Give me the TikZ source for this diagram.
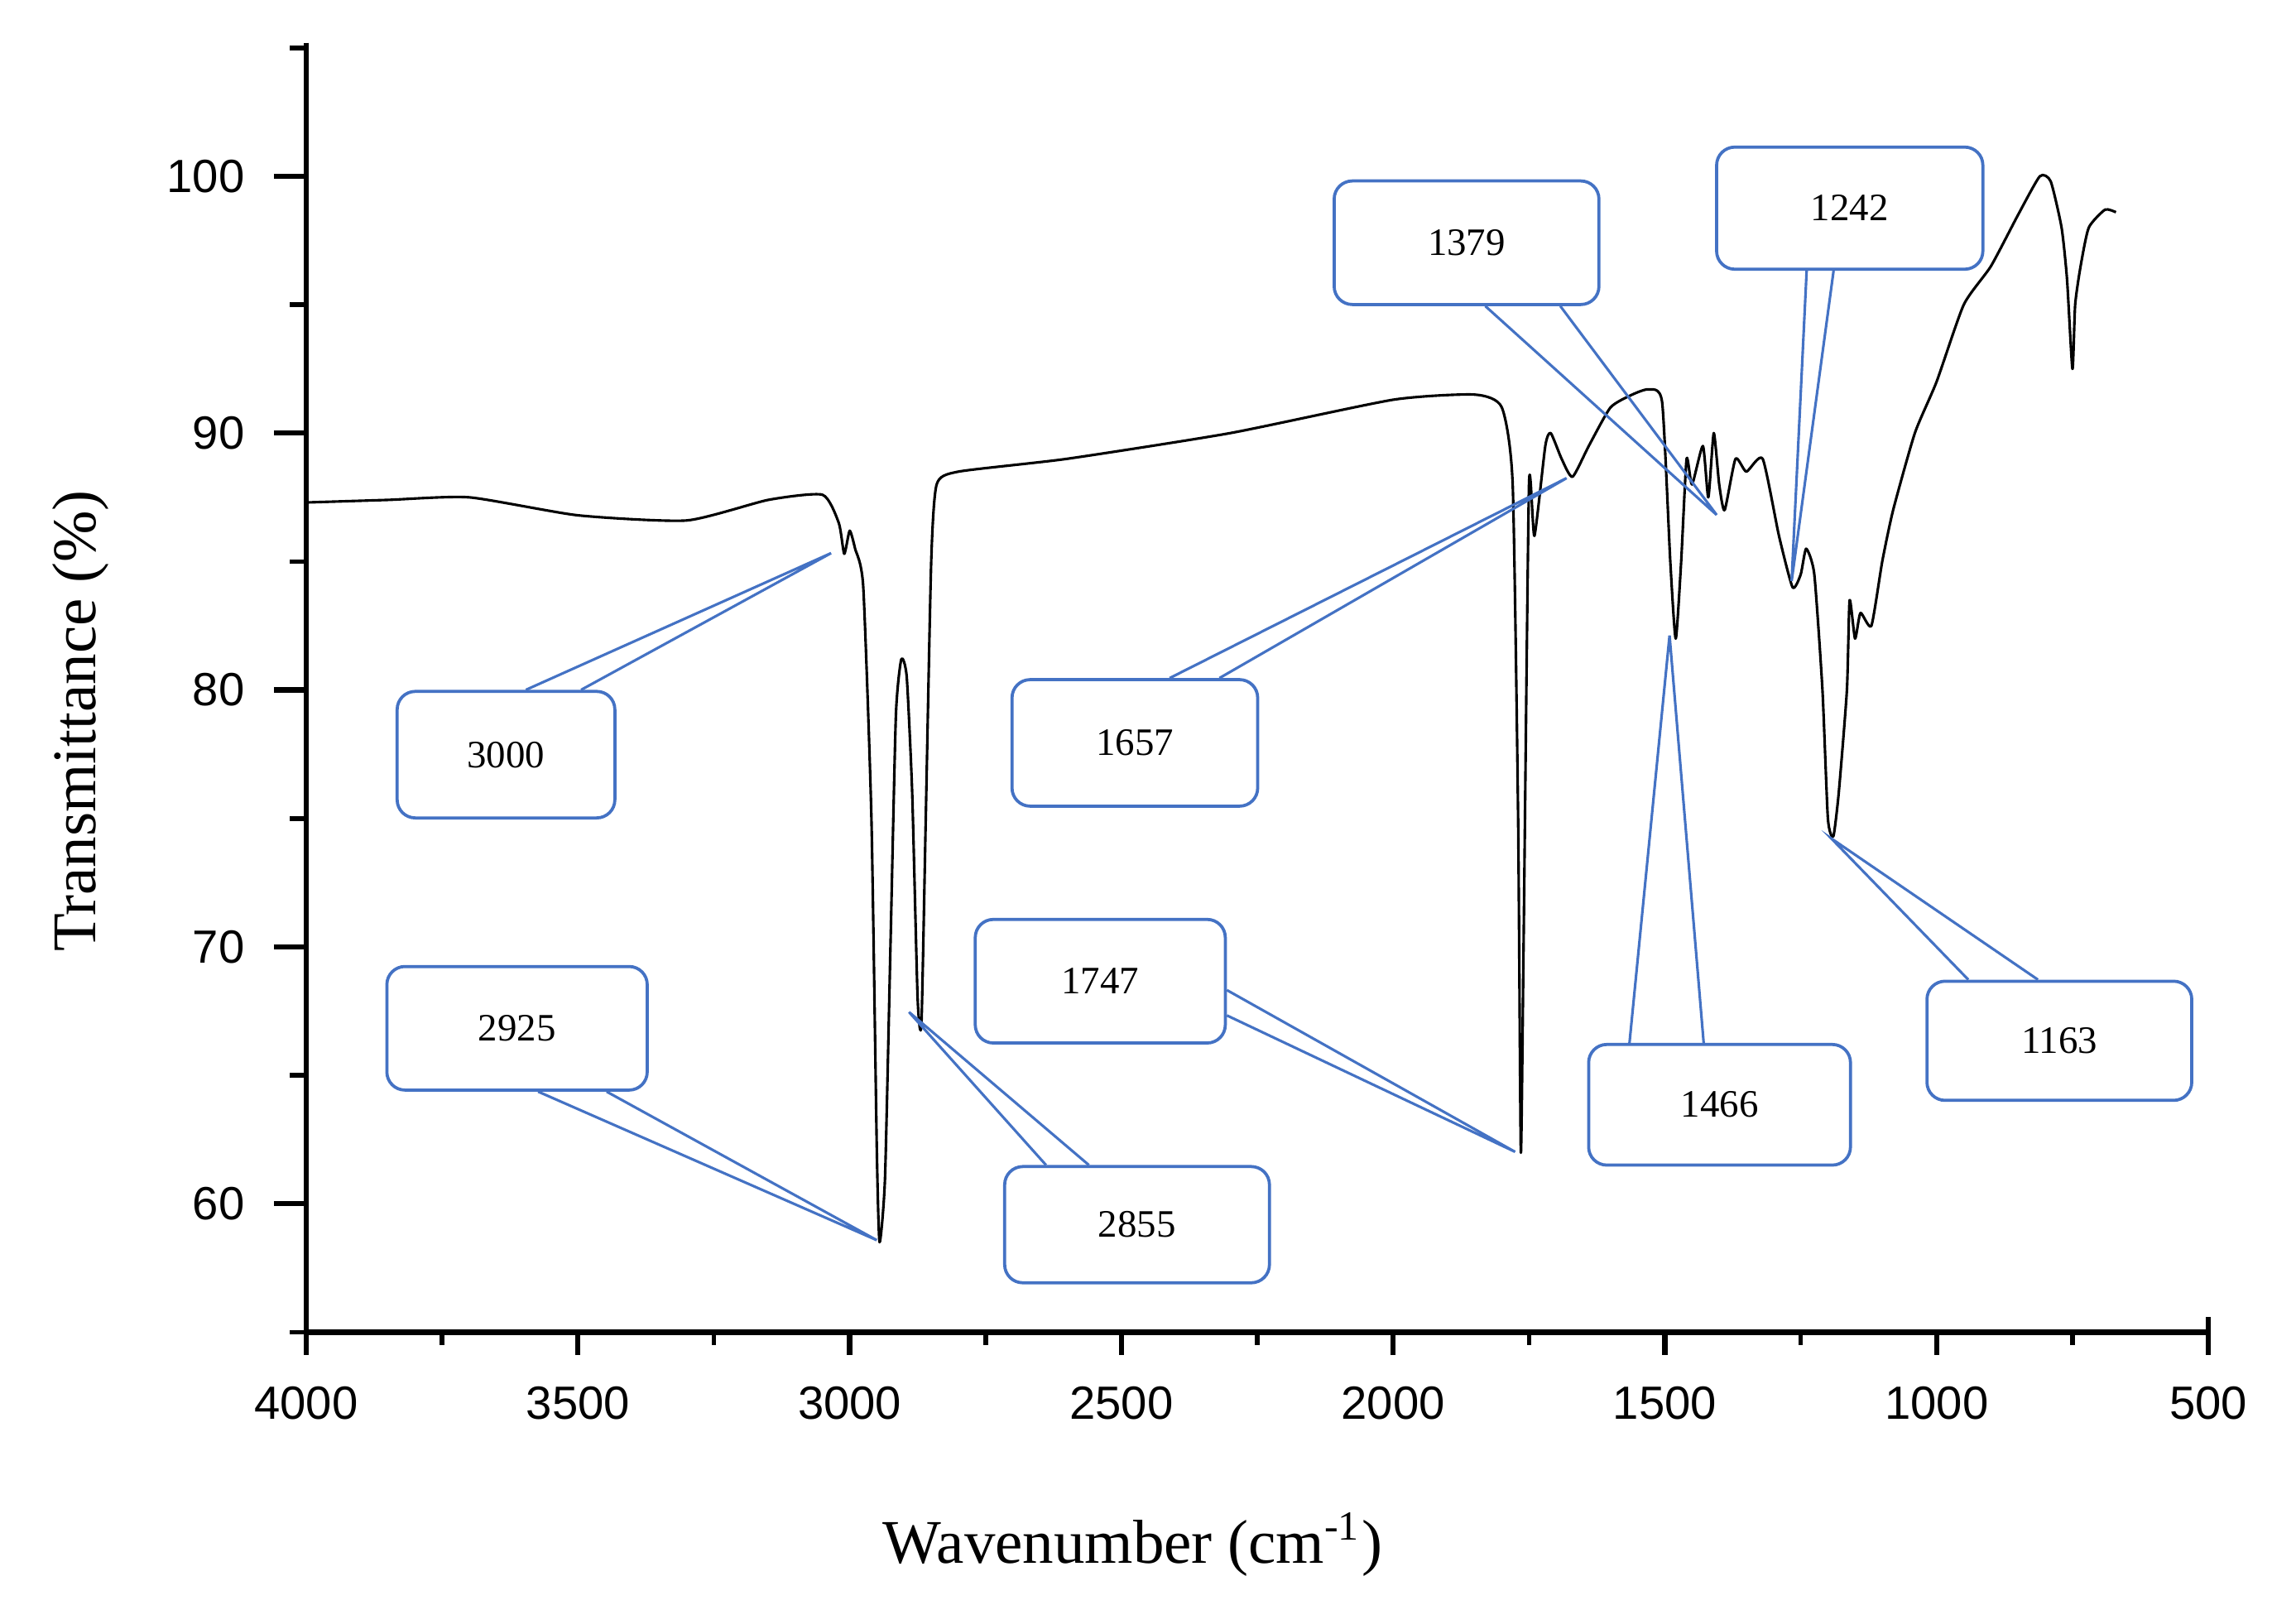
\documentclass[tikz,border=0pt]{standalone}
\usepackage{fontspec}
\setmainfont{Liberation Serif}
\newfontfamily\axfont{Liberation Sans}
\usetikzlibrary{calc}
\definecolor{cblue}{HTML}{4472C4}
\tikzset{
 cbox/.style={draw=cblue,line width=0.6pt,rounded corners=3.5pt,fill=white,font=\fontsize{7.5}{8}\selectfont,inner sep=0pt},
 cline/.style={draw=cblue,line width=0.5pt},
 ticklab/.style={font=\axfont\fontsize{9}{10}\selectfont}
}
\begin{document}
\begin{tikzpicture}
\useasboundingbox[fill=white] (0,0) rectangle (15.6,10.9);
% data scope
\begin{scope}[shift={(16.85cm,-7.7475cm)}, x=-0.0037cm, y=0.1745cm]
 \draw[line width=1.1pt] (4000,105.2) -- (4000,55) -- (500,55) -- (500,55.6);
 \foreach \w in {4000,3500,...,500} {
   \draw[line width=1pt] (\w,55) -- ++(0,-0.9);
   \node[ticklab,below] at (\w,53.6) {\w};}
 \foreach \w in {3750,3250,...,750} \draw[line width=0.9pt] (\w,55) -- ++(0,-0.5);
 \foreach \t in {60,70,...,100} {
   \draw[line width=1pt] (4000,\t) -- ++(60,0);
   \node[ticklab,left] at (4080,\t) {\t};}
 \foreach \t in {55,65,...,105} \draw[line width=0.9pt] (4000,\t) -- ++(30,0);
 \draw[line width=0.5pt,line join=round] plot[smooth,tension=0.35] coordinates {
 (4000,87.3) (3850,87.4) (3700,87.5) (3500,86.8) (3300,86.6) (3150,87.4) (3050,87.6)
 (3020,86.5) (3010,85.3) (3000,86.2) (2990,85.5) (2975,84) (2960,75) (2950,62)
 (2945,58.5) (2935,61) (2925,70) (2915,79) (2905,81.2) (2895,80.5) (2885,76)
 (2875,68) (2868,67) (2860,75) (2850,85) (2840,88) (2800,88.5) (2600,89) (2300,90)
 (2000,91.3) (1850,91.5) (1800,91) (1780,88) (1770,75) (1765,62) (1760,70) (1750,88)
 (1740,86) (1720,89.5) (1710,90) (1690,89) (1670,88.3) (1640,89.5) (1600,91)
 (1560,91.5) (1530,91.7) (1505,91.2) (1490,85) (1480,82) (1470,85) (1460,89)
 (1450,88) (1430,89.5) (1420,87.5) (1410,90) (1400,88) (1390,87) (1370,89) (1350,88.5)
 (1320,89) (1290,86) (1265,84) (1250,84.5) (1240,85.5) (1225,84.5) (1210,80) (1200,75)
 (1190,74.3) (1180,76) (1165,80) (1160,83.5) (1150,82) (1140,83) (1120,82.5) (1100,85)
 (1080,87) (1040,90) (1000,92) (950,95) (900,96.5) (850,98.5) (810,100) (790,99.8)
 (770,98) (760,96) (750,92.5) (745,95) (735,96.5) (720,98) (690,98.7) (670,98.6)};
\end{scope}
% px scope
\begin{scope}[shift={(0,10.9cm)}, x=0.01cm, y=-0.01cm]
 \node[font=\fontsize{12}{14}\selectfont] (xt) at (770,1050) {Wavenumber (cm\textsuperscript{-1})};
 \node[font=\fontsize{12}{14}\selectfont,rotate=90] (yt) at (55,490) {Transmittance (\%)};
 \foreach \n/\xa/\ya/\xb/\yb/\tx/\ty in {
   3000/270/470/418/556/565/376, 2925/263/657/440/741/596/843,
   2855/683/793/863/872/618/688, 1657/688/462/855/548/1065/325,
   1747/663/625/833/709/1030/783, 1379/907/123/1087/207/1167/350,
   1242/1167/100/1348/183/1218/395, 1466/1080/710/1258/792/1135/432,
   1163/1310/667/1490/748/1245/570} {
   \coordinate (t\n) at (\tx,\ty);
 }
 \newcommand\cbx[5]{\node[cbox,minimum width={(#4-#2)*0.01cm},minimum height={(#5-#3)*0.01cm}] (b#1) at ({(#2+#4)/2},{(#3+#5)/2}) {#1};}
 \cbx{3000}{270}{470}{418}{556}
 \cbx{2925}{263}{657}{440}{741}
 \cbx{2855}{683}{793}{863}{872}
 \cbx{1657}{688}{462}{855}{548}
 \cbx{1747}{663}{625}{833}{709}
 \cbx{1379}{907}{123}{1087}{207}
 \cbx{1242}{1167}{100}{1348}{183}
 \cbx{1466}{1080}{710}{1258}{792}
 \cbx{1163}{1310}{667}{1490}{748}
 \draw[cline] ($(b3000.north west)!0.59!(b3000.north east)$) -- (t3000) -- ($(b3000.north west)!0.84!(b3000.north east)$);
 \draw[cline] ($(b2925.south west)!0.58!(b2925.south east)$) -- (t2925) -- ($(b2925.south west)!0.84!(b2925.south east)$);
 \draw[cline] ($(b2855.north west)!0.16!(b2855.north east)$) -- (t2855) -- ($(b2855.north west)!0.32!(b2855.north east)$);
 \draw[cline] ($(b1657.north west)!0.64!(b1657.north east)$) -- (t1657) -- ($(b1657.north west)!0.84!(b1657.north east)$);
 \draw[cline] ($(b1747.north east)!0.57!(b1747.south east)$) -- (t1747) -- ($(b1747.north east)!0.77!(b1747.south east)$);
 \draw[cline] ($(b1379.south west)!0.57!(b1379.south east)$) -- (t1379) -- ($(b1379.south west)!0.85!(b1379.south east)$);
 \draw[cline] ($(b1242.south west)!0.34!(b1242.south east)$) -- (t1242) -- ($(b1242.south west)!0.44!(b1242.south east)$);
 \draw[cline] ($(b1466.north west)!0.16!(b1466.north east)$) -- (t1466) -- ($(b1466.north west)!0.44!(b1466.north east)$);
 \draw[cline] ($(b1163.north west)!0.16!(b1163.north east)$) -- (t1163) -- ($(b1163.north west)!0.42!(b1163.north east)$);
\end{scope}
\end{tikzpicture}
\end{document}
